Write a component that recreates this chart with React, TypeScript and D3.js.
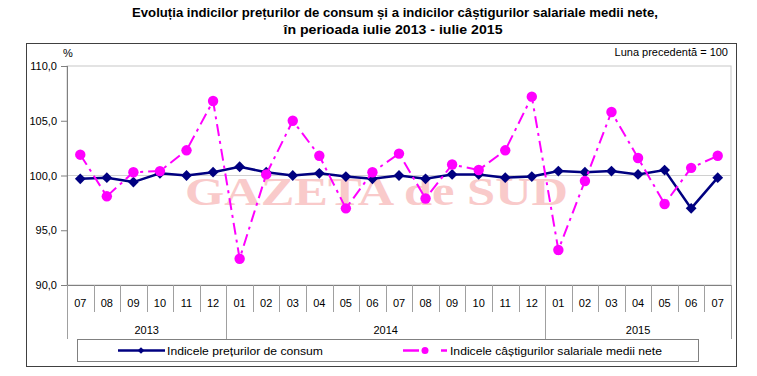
import React from "react";
import * as d3 from "d3";

const months = ["07","08","09","10","11","12","01","02","03","04","05","06","07","08","09","10","11","12","01","02","03","04","05","06","07"];
const years = [
  { label: "2013", start: 0, end: 6 },
  { label: "2014", start: 6, end: 18 },
  { label: "2015", start: 18, end: 25 },
];
const cpi = [99.7,99.8,99.4,100.2,100.0,100.3,100.8,100.3,100.0,100.2,99.9,99.7,100.0,99.7,100.1,100.1,99.8,99.9,100.4,100.3,100.4,100.1,100.5,97.0,99.8];
const wages = [101.9,98.1,100.3,100.4,102.3,106.8,92.4,100.1,105.0,101.8,97.0,100.3,102.0,97.9,101.0,100.5,102.3,107.2,93.2,99.5,105.8,101.6,97.4,100.7,101.8];
const yTicks = [90,95,100,105,110];
const seriesNames = ["Indicele prețurilor de consum", "Indicele câștigurilor salariale medii nete"];

const W = 757, H = 376;
const left = 67, right = 731, top = 66, bottom = 285;
const NAVY = "#000080", MAG = "#ff00ff";
const FONT = "Arial, 'Liberation Sans', sans-serif";

export default function App() {
  const idx = months.map((_, i) => i);
  const x = d3.scaleBand<number>().domain(idx).range([left, right]);
  const y = d3.scaleLinear().domain([90, 110]).range([bottom, top]);
  const cx = (i: number) => (x(i) as number) + x.bandwidth() / 2;
  const line = d3.line<number>().x((_, i) => cx(i)).y((v) => y(v));
  const diamond = d3.symbol(d3.symbolSquare, 58)();
  const fmt = (v: number) => v.toFixed(1).replace(".", ",");

  return (
    <svg width={W} height={H} style={{ position: "absolute", left: 0, top: 0, fontFamily: FONT }}>
      <rect x={0} y={0} width={W} height={H} fill="#fff" />
      <text x={395} y={17} textAnchor="middle" fontWeight="bold" fontSize={12.5} textLength={526} lengthAdjust="spacingAndGlyphs" fontFamily="'Liberation Sans Narrow', 'Liberation Sans', Arial, sans-serif">Evoluția indicilor prețurilor de consum și a indicilor câștigurilor salariale medii nete,</text>
      <text x={393} y={34} textAnchor="middle" fontWeight="bold" fontSize={12.5} textLength={219} lengthAdjust="spacingAndGlyphs" fontFamily="'Liberation Sans Narrow', 'Liberation Sans', Arial, sans-serif">în perioada iulie 2013 - iulie 2015</text>

      <rect x={26.5} y={43.5} width={710} height={323} fill="none" stroke="#404040" strokeWidth={1} />
      <text x={63} y={57} fontSize={11}>%</text>
      <text x={728} y={56} fontSize={11} textAnchor="end">Luna precedentă = 100</text>

      {/* plot area border */}
      <rect x={left} y={top} width={right - left} height={bottom - top} fill="none" stroke="#c8c8c8" />
      <line x1={left} x2={right} y1={y(100)} y2={y(100)} stroke="#d0d0d0" />

      {/* watermark */}
      <text x={185} y={205} fontFamily="'Liberation Serif', 'Times New Roman', serif" fontWeight="bold" fontSize={41} fill="#f9caca" textLength={383} lengthAdjust="spacingAndGlyphs">GAZETA de SUD</text>

      {/* y axis */}
      <line x1={left + 0.5} x2={left + 0.5} y1={top} y2={bottom} stroke="#808080" />
      {yTicks.map((t) => (
        <g key={t}>
          <line x1={left - 6} x2={left} y1={y(t) + 0.5} y2={y(t) + 0.5} stroke="#808080" />
          <text x={57} y={y(t) + 4} fontSize={11} textAnchor="end">{fmt(t)}</text>
        </g>
      ))}

      {/* x axis */}
      <line x1={left} x2={right} y1={bottom + 0.5} y2={bottom + 0.5} stroke="#808080" />
      {idx.concat([months.length]).map((i) => {
        const xx = i < months.length ? (x(i) as number) : right;
        return <line key={"t" + i} x1={Math.round(xx) + 0.5} x2={Math.round(xx) + 0.5} y1={bottom} y2={312} stroke="#a0a0a0" />;
      })}
      {months.map((m, i) => (
        <text key={"m" + i} x={cx(i)} y={307} fontSize={11} textAnchor="middle">{m}</text>
      ))}
      {years.map((yr) => {
        const x0 = x(yr.start) as number;
        const x1 = yr.end < months.length ? (x(yr.end) as number) : right;
        return (
          <g key={yr.label}>
            <line x1={Math.round(x0) + 0.5} x2={Math.round(x0) + 0.5} y1={312} y2={339} stroke="#a0a0a0" />
            {yr.end === months.length && <line x1={right + 0.5} x2={right + 0.5} y1={312} y2={339} stroke="#a0a0a0" />}
            <text x={(x0 + x1) / 2} y={334} fontSize={11} textAnchor="middle">{yr.label}</text>
          </g>
        );
      })}

      {/* series */}
      <path d={line(cpi) || ""} fill="none" stroke={NAVY} strokeWidth={2.5} />
      {cpi.map((v, i) => (
        <path key={"c" + i} d={diamond || ""} transform={`translate(${cx(i)},${y(v)}) rotate(45)`} fill={NAVY} />
      ))}
      <path d={line(wages) || ""} fill="none" stroke={MAG} strokeWidth={2} strokeDasharray="12,5,3,5" />
      {wages.map((v, i) => (
        <circle key={"w" + i} cx={cx(i)} cy={y(v)} r={5.2} fill={MAG} />
      ))}

      {/* legend */}
      <rect x={77.5} y={339.5} width={621} height={22} fill="#fff" stroke="#808080" />
      <line x1={118} x2={165} y1={350.5} y2={350.5} stroke={NAVY} strokeWidth={2.5} />
      <path d={d3.symbol(d3.symbolSquare, 22)() || ""} transform="translate(141,350.5) rotate(45)" fill={NAVY} />
      <text x={167} y={355} fontSize={11} textLength={156} lengthAdjust="spacingAndGlyphs">{seriesNames[0]}</text>
      <line x1={403} x2={419} y1={350.5} y2={350.5} stroke={MAG} strokeWidth={2.5} />
      <circle cx={425} cy={350.5} r={3.5} fill={MAG} />
      <line x1={441} x2={447} y1={350.5} y2={350.5} stroke={MAG} strokeWidth={2.5} />
      <text x={450} y={355} fontSize={11} textLength={212} lengthAdjust="spacingAndGlyphs">{seriesNames[1]}</text>
    </svg>
  );
}
